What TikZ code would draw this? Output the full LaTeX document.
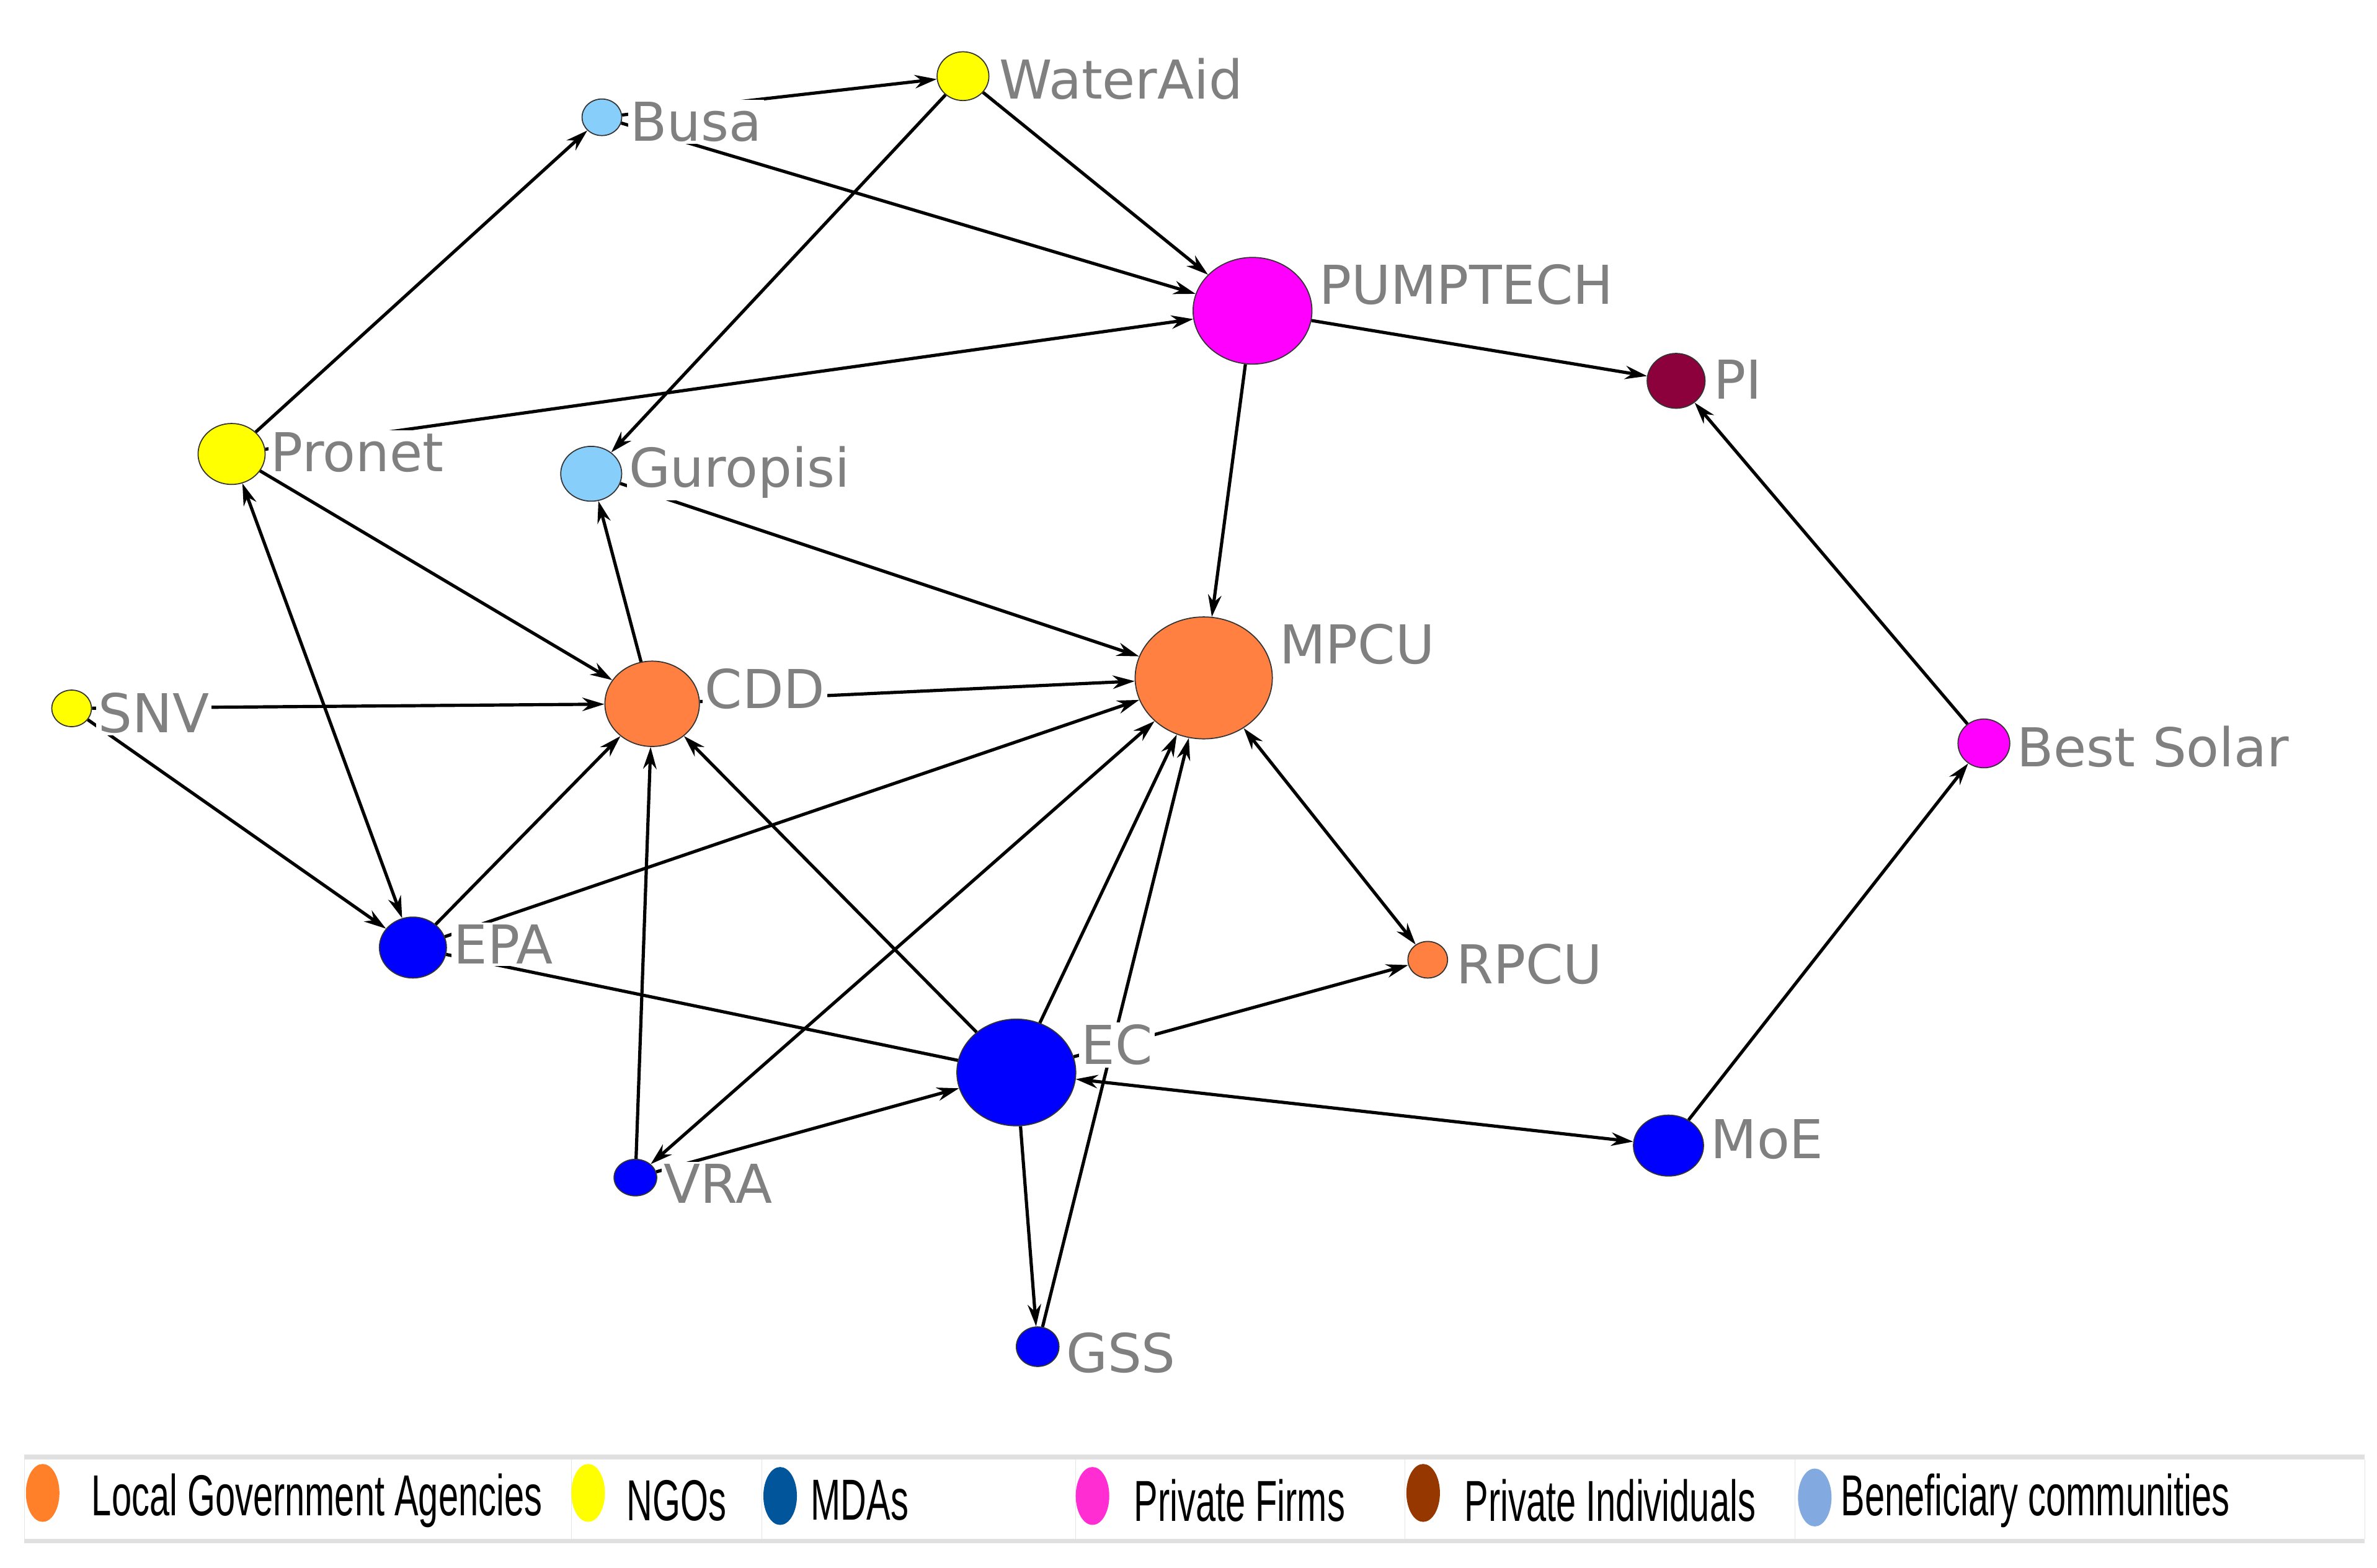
\documentclass[tikz,border=0pt]{standalone}
\usepackage{fontspec}
\setmainfont{DejaVu Sans}
\newfontfamily\legfont{Liberation Sans}
\usetikzlibrary{shapes.geometric,arrows.meta}
\definecolor{lorange}{RGB}{255,128,64}
\definecolor{lblue}{RGB}{135,206,250}
\definecolor{maroon}{RGB}{140,0,60}
\definecolor{mag}{RGB}{255,0,255}
\definecolor{pblue}{RGB}{0,0,255}
\definecolor{pyellow}{RGB}{255,255,0}
\definecolor{lgray}{RGB}{128,128,128}
\definecolor{legO}{RGB}{255,128,40}
\definecolor{legB}{RGB}{0,85,155}
\definecolor{legM}{RGB}{255,45,210}
\definecolor{legR}{RGB}{150,55,0}
\definecolor{legL}{RGB}{130,170,225}
\tikzset{
  v/.style={ellipse,draw=black!80,line width=0.5pt,inner sep=0pt},
  lab/.style={anchor=west,fill=white,inner sep=1pt,text=lgray,font=\fontsize{25}{30}\selectfont},
  e/.style={line width=1.5pt,-{Stealth[length=0.36cm,width=0.22cm]}},
  bi/.style={line width=1.5pt,{Stealth[length=0.36cm,width=0.22cm]}-{Stealth[length=0.36cm,width=0.22cm]}},
  pl/.style={line width=1.5pt},
  leg/.style={anchor=west,inner sep=0pt,xscale=0.62,font=\legfont\fontsize{27}{30}\selectfont},
  mk/.style={ellipse,inner sep=0pt,minimum width=0.55cm,minimum height=0.95cm}
}
\begin{document}
\begin{tikzpicture}[x=0.025cm,y=-0.025cm]
\useasboundingbox (0,0) rectangle (1560,1029);
\def\n#1#2#3#4#5#6{\node[v,fill=#6,minimum width=#4*0.05cm,minimum height=#5*0.05cm] (#1) at (#2,#3) {};}
\n{busa}{395}{77}{13}{12}{lblue}
\n{wat}{632}{50}{17}{16}{pyellow}
\n{pump}{822}{204}{39}{35}{mag}
\n{pi}{1100}{250}{19}{18}{maroon}
\n{pro}{152}{298}{22}{20}{pyellow}
\n{gur}{388}{311}{20}{18}{lblue}
\n{snv}{47}{465}{13}{12}{pyellow}
\n{cdd}{428}{462}{31}{28}{lorange}
\n{mpcu}{790}{445}{45}{40}{lorange}
\n{best}{1302}{488}{17}{16}{mag}
\n{epa}{271}{622}{22}{20}{pblue}
\n{rpcu}{937}{630}{13}{12}{lorange}
\n{ec}{667}{704}{39}{35}{pblue}
\n{moe}{1095}{752}{23}{20}{pblue}
\n{vra}{417}{773}{14}{12}{pblue}
\n{gss}{681}{884}{14}{13}{pblue}
% edges
\draw[e] (busa) -- (wat);
\draw[e] (wat) -- (gur);
\draw[e] (wat) -- (pump);
\draw[e] (busa) -- (pump);
\draw[e] (pro) -- (busa);
\draw[e] (pro) -- (pump);
\draw[e] (pump) -- (pi);
\draw[e] (pump) -- (mpcu);
\draw[e] (best) -- (pi);
\draw[e] (moe) -- (best);
\draw[e] (gur) -- (mpcu);
\draw[e] (cdd) -- (gur);
\draw[e] (pro) -- (cdd);
\draw[bi] (pro) -- (epa);
\draw[e] (snv) -- (cdd);
\draw[e] (snv) -- (epa);
\draw[e] (cdd) -- (mpcu);
\draw[e] (epa) -- (cdd);
\draw[e] (epa) -- (mpcu);
\draw[e] (vra) -- (cdd);
\draw[e] (ec) -- (cdd);
\draw[bi] (vra) -- (mpcu);
\draw[e] (ec) -- (mpcu);
\draw[e] (gss) -- (mpcu);
\draw[pl] (epa) -- (ec);
\draw[e] (ec) -- (rpcu);
\draw[bi] (mpcu) -- (rpcu);
\draw[bi] (ec) -- (moe);
\draw[e] (vra) -- (ec);
\draw[e] (ec) -- (gss);
% labels
\node[lab] (lbusa) at (412,80) {Busa};
\node[lab] (lwat) at (654,52) {WaterAid};
\node[lab] (lpump) at (864,187) {PUMPTECH};
\node[lab] (lpi) at (1123,249) {PI};
\node[lab] (lpro) at (176,297) {Pronet};
\node[lab] (lgur) at (411,310) {Guropisi};
\node[lab] (lsnv) at (63,468) {SNV};
\node[lab] (lcdd) at (461,452) {CDD};
\node[lab] (lmpcu) at (838,423) {MPCU};
\node[lab] (lbest) at (1322,490) {Best Solar};
\node[lab] (lepa) at (296,620) {EPA};
\node[lab] (lrpcu) at (954,633) {RPCU};
\node[lab] (lec) at (708,686) {EC};
\node[lab] (lmoe) at (1121,748) {MoE};
\node[lab] (lvra) at (434,777) {VRA};
\node[lab] (lgss) at (698,888) {GSS};
% legend
\fill[black!12] (16,955) rectangle (1552,958);
\fill[black!12] (16,1010) rectangle (1552,1013);
\draw[black!10,line width=0.4pt] (16,958) -- (16,1010) (375,958) -- (375,1010) (500,958) -- (500,1010) (706,958) -- (706,1010) (922,958) -- (922,1010) (1178,958) -- (1178,1010) (1552,958) -- (1552,1010);
\node[mk,fill=legO] (m1) at (28,980) {};
\node[mk,fill=pyellow] (m2) at (386,980) {};
\node[mk,fill=legB] (m3) at (512,982) {};
\node[mk,fill=legM] (m4) at (717,982) {};
\node[mk,fill=legR] (m5) at (934,980) {};
\node[mk,fill=legL] (m6) at (1191,983) {};
\node[leg] (t1) at (60,985) {Local Government Agencies};
\node[leg] (t2) at (411,985) {NGOs};
\node[leg] (t3) at (532,985) {MDAs};
\node[leg] (t4) at (744,985) {Private Firms};
\node[leg] (t5) at (961,985) {Private Individuals};
\node[leg] (t6) at (1208,985) {Beneficiary communities};
\end{tikzpicture}
\end{document}
